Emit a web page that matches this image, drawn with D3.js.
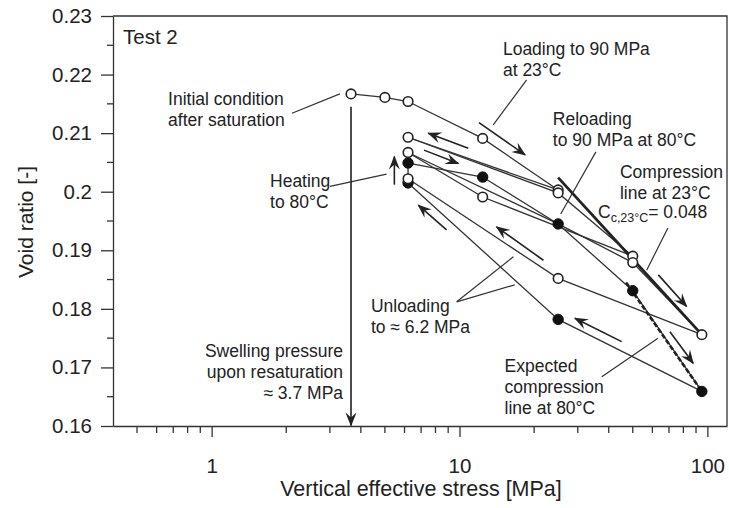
<!DOCTYPE html>
<html>
<head>
<meta charset="utf-8">
<script src="https://cdn.jsdelivr.net/npm/d3@7"></script>
<style>
	body { margin: 0; background: #fff; }
	svg text { font-family: "Liberation Sans", Arial, sans-serif; fill: #222; }
	.axis path, .axis line { stroke: #333; stroke-width: 1.3; }
</style>
</head>
<body>
<div id="chart"></div>
<script>
// x: vertical effective stress [MPa], y: void ratio [-]
const loading23 = [[3.65, 0.2167], [5.0, 0.2161], [6.2, 0.2154], [12.4, 0.2091], [25, 0.2003]];
const unloadA23 = [[25, 0.2003], [6.2, 0.2093]];
const reloadA23 = [[6.2, 0.2093], [25, 0.1998], [50, 0.1890]];
const unloadB23 = [[50, 0.1890], [12.4, 0.1991], [6.2, 0.2067]];
const reloadB23 = [[6.2, 0.2067], [25, 0.1945], [50, 0.1879], [95, 0.1756]];
const unload23 = [[95, 0.1756], [25, 0.1852], [6.2, 0.2022]];
const heating = [[6.2, 0.2022], [6.2, 0.2049]];
const reload80 = [[6.2, 0.2049], [12.4, 0.2025], [25, 0.1945], [50, 0.1831], [95, 0.1659]];
const unload80 = [[95, 0.1659], [25, 0.1782], [6.2, 0.2015]];
const compLine23 = [[25, 0.2024], [95, 0.1756]];
const expected80 = [[47, 0.1845], [95, 0.1659]];

const openPoints = [[3.65, 0.2167], [5.0, 0.2161], [6.2, 0.2154], [12.4, 0.2091], [25, 0.2003],
	[6.2, 0.2093], [25, 0.1998], [50, 0.1890], [50, 0.1879], [95, 0.1756], [25, 0.1852],
	[6.2, 0.2067], [12.4, 0.1991], [6.2, 0.2022]];
const filledPoints = [[6.2, 0.2049], [12.4, 0.2025], [25, 0.1945], [50, 0.1831], [95, 0.1659],
	[25, 0.1782], [6.2, 0.2015]];

const xTicksMajor = [1, 10, 100];
const xTicksMinor = [0.5, 0.6, 0.7, 0.8, 0.9, 2, 3, 4, 5, 6, 7, 8, 9, 20, 30, 40, 50, 60, 70, 80, 90];
const yTicksMajor = [0.16, 0.17, 0.18, 0.19, 0.2, 0.21, 0.22, 0.23];
const yTicksMinor = [0.165, 0.175, 0.185, 0.195, 0.205, 0.215, 0.225];

// annotation texts: [stress, void ratio, anchor, lines]
const labels = [
	[0.667, 0.2148, 'start', ['Initial condition', 'after saturation']],
	[14.97, 0.2233, 'start', ['Loading to 90 MPa', 'at 23°C']],
	[23.8, 0.2114, 'start', ['Reloading', 'to 90 MPa at 80°C']],
	[44.4, 0.2023, 'start', ['Compression', 'line at 23°C']],
	[1.72, 0.2008, 'start', ['Heating', 'to 80°C']],
	[4.39, 0.1795, 'start', ['Unloading', 'to ≈ 6.2 MPa']],
	[3.39, 0.1718, 'end', ['Swelling pressure', 'upon resaturation', '≈ 3.7 MPa']],
	[15.2, 0.1692, 'start', ['Expected', 'compression', 'line at 80°C']]
];
// leader lines
const leaders = [
	[[2.11, 0.2134], [3.29, 0.2167]],
	[[18.66, 0.2191], [13.68, 0.2114]],
	[[35.5, 0.2068], [25.6, 0.1962]],
	[[69.3, 0.1938], [56.9, 0.1866]],
	[[3.0, 0.2009], [5.08, 0.2030]],
	[[9.74, 0.1812], [16.5, 0.1889]],
	[[9.74, 0.1812], [16.7, 0.1841]],
	[[37.5, 0.1684], [63.2, 0.1750]]
];
// arrows: [from, to]
const arrows = [
	[[3.65, 0.2145], [3.65, 0.1601]],
	[[5.46, 0.2012], [5.46, 0.2060]],
	[[11.98, 0.2118], [18.4, 0.2063]],
	[[10.85, 0.2074], [7.48, 0.2100]],
	[[7.19, 0.2071], [9.9, 0.2048]],
	[[8.87, 0.1935], [6.82, 0.1977]],
	[[21.8, 0.1883], [14.1, 0.1940]],
	[[45.1, 0.1744], [29.2, 0.1784]],
	[[63.4, 0.1858], [82.5, 0.1804]],
	[[70.6, 0.1761], [87.7, 0.1707]]
];

const W = 729, H = 508;
const margin = {left: 113, right: 2, top: 16, bottom: 82};
const x = d3.scaleLog().domain([0.4, 120]).range([margin.left, W - margin.right]);
const y = d3.scaleLinear().domain([0.16, 0.23]).range([H - margin.bottom, margin.top]);

const svg = d3.select('#chart').append('svg')
	.attr('width', W).attr('height', H);

svg.append('defs').append('marker')
	.attr('id', 'head')
	.attr('viewBox', '-14 -6 16 12')
	.attr('refX', 0).attr('refY', 0)
	.attr('markerWidth', 16).attr('markerHeight', 12)
	.attr('markerUnits', 'userSpaceOnUse')
	.attr('orient', 'auto')
	.append('path')
	.attr('d', 'M1,0 L-13,-5.5 L-8,0 L-13,5.5 Z')
	.attr('fill', '#222');

// axes
const xAxis = svg.append('g').attr('class', 'axis')
	.attr('transform', 'translate(0,' + y(0.16) + ')');
xAxis.call(d3.axisBottom(x).tickValues(xTicksMajor).tickFormat(d3.format('d')).tickSize(11).tickSizeOuter(0));
xAxis.selectAll('.tick text').attr('font-size', 20.5).attr('dy', '1.6em');
xAxis.append('g').selectAll('line').data(xTicksMinor).enter().append('line')
	.attr('x1', d => x(d)).attr('x2', d => x(d))
	.attr('y1', 0).attr('y2', 7);

const yAxis = svg.append('g').attr('class', 'axis')
	.attr('transform', 'translate(' + x(0.4) + ',0)');
yAxis.call(d3.axisLeft(y).tickValues(yTicksMajor).tickFormat(d => String(+d.toFixed(2))).tickSize(12).tickSizeOuter(0));
yAxis.selectAll('.tick text').attr('font-size', 20.5).attr('x', -21);
yAxis.append('g').selectAll('line').data(yTicksMinor).enter().append('line')
	.attr('x1', -6).attr('x2', 0)
	.attr('y1', d => y(d)).attr('y2', d => y(d));

svg.selectAll('.axis text').style('fill', '#222');

// frame top and right
svg.append('path')
	.attr('d', 'M' + x(0.4) + ',' + y(0.23) + 'H' + x(120) + 'V' + y(0.16))
	.attr('fill', 'none').attr('stroke', '#333').attr('stroke-width', 1.3);

svg.append('text')
	.attr('x', 421).attr('y', 496)
	.attr('text-anchor', 'middle').attr('font-size', 21.5)
	.text('Vertical effective stress [MPa]');
svg.append('text')
	.attr('transform', 'translate(33,222) rotate(-90)')
	.attr('text-anchor', 'middle').attr('font-size', 21)
	.text('Void ratio [-]');

svg.append('text')
	.attr('x', x(0.439)).attr('y', y(0.2253))
	.attr('font-size', 20.5).text('Test 2');

const line = d3.line().x(d => x(d[0])).y(d => y(d[1]));
const plot = svg.append('g');

[loading23, unloadA23, reloadA23, unloadB23, reloadB23, unload23, heating, reload80, unload80].forEach(s => {
	plot.append('path').datum(s)
		.attr('d', line)
		.attr('fill', 'none').attr('stroke', '#333').attr('stroke-width', 1.3);
});
plot.append('path').datum(compLine23).attr('d', line)
	.attr('fill', 'none').attr('stroke', '#222').attr('stroke-width', 2.8);
plot.append('path').datum(expected80).attr('d', line)
	.attr('fill', 'none').attr('stroke', '#222').attr('stroke-width', 2.6)
	.attr('stroke-dasharray', '5,2');

leaders.forEach(s => {
	plot.append('path').datum(s).attr('d', line)
		.attr('fill', 'none').attr('stroke', '#333').attr('stroke-width', 1.2);
});
arrows.forEach(s => {
	plot.append('path').datum(s).attr('d', line)
		.attr('fill', 'none').attr('stroke', '#222').attr('stroke-width', 1.6)
		.attr('marker-end', 'url(#head)');
});

// filled (80°C) first, open (23°C) on top
plot.selectAll('.filled').data(filledPoints).enter().append('circle')
	.attr('class', 'filled')
	.attr('cx', d => x(d[0])).attr('cy', d => y(d[1])).attr('r', 5.2)
	.attr('fill', '#111').attr('stroke', '#111').attr('stroke-width', 1);
plot.selectAll('.open').data(openPoints).enter().append('circle')
	.attr('class', 'open')
	.attr('cx', d => x(d[0])).attr('cy', d => y(d[1])).attr('r', 4.8)
	.attr('fill', '#fff').attr('stroke', '#222').attr('stroke-width', 1.6);

// text annotations
labels.forEach(l => {
	const t = svg.append('text')
		.attr('x', x(l[0])).attr('y', y(l[1]))
		.attr('text-anchor', l[2]).attr('font-size', 17.5);
	l[3].forEach((s, i) => {
		t.append('tspan').attr('x', x(l[0])).attr('dy', i ? 21 : 0).text(s);
	});
});
// C_c,23°C = 0.048 with subscript
const cc = svg.append('text').attr('x', x(36.2)).attr('y', y(0.1955)).attr('font-size', 17.5);
cc.append('tspan').text('C');
cc.append('tspan').attr('font-size', 12.5).attr('dy', 4).text('c,23°C');
cc.append('tspan').attr('dy', -4).text('= 0.048');
</script>
</body>
</html>
